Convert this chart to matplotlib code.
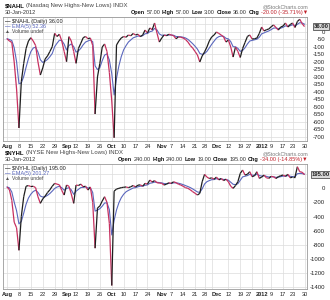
import matplotlib
matplotlib.use("Agg")
import matplotlib.pyplot as plt
from matplotlib.collections import LineCollection
import numpy as np
import pandas as pd

# ====== DATA ======
holidays = ["2011-09-05", "2011-11-24", "2011-12-26", "2012-01-02", "2012-01-16"]
tick_dates = ["2011-08-01", "2011-08-08", "2011-08-15", "2011-08-22", "2011-08-29",
              "2011-09-01", "2011-09-12", "2011-09-19", "2011-09-26", "2011-10-03",
              "2011-10-10", "2011-10-17", "2011-10-24", "2011-11-01", "2011-11-07",
              "2011-11-14", "2011-11-21", "2011-11-28", "2011-12-01", "2011-12-12",
              "2011-12-19", "2011-12-27", "2012-01-03", "2012-01-09", "2012-01-17",
              "2012-01-23", "2012-01-30"]
tick_labels = ["Aug", "8", "15", "22", "29", "Sep", "12", "19", "26", "Oct", "10", "17", "24",
               "Nov", "7", "14", "21", "28", "Dec", "12", "19", "27", "2012", "9", "17", "23", "30"]
month_labels = ["Aug", "Sep", "Oct", "Nov", "Dec", "2012"]

nahl = [-45, -60, -70, -200, -380, -640, -330, -210, -110, -60,
        -38, -60, -90, -200, -287, -240, -180, -160, -130, -98,
        -9, -30, -15, -60, -130, -198, -31, -60, -130, -209,
        -110, -75, -38, -30, -45, -40, -90, -547, -300, -209,
        -100, -80, -130, -270, -460, -705, -87, -60, -40, -30,
        -35, -20, -25, -10, -20, -15, -31, -20, 13, -7,
        27, 15, 60, -7, -67, -40, -20, -25, -15, -20,
        -25, -45, -33, -35, -40, -50, -67, -90, -107, -130,
        -153, -200, -160, -133, -100, -60, -33, -20, 0, -10,
        -20, -33, -67, -53, -100, -167, -100, -130, -170, -110,
        -70, -30, -20, -47, -45, -40, -10, 33, 7, 15,
        20, 35, 47, 30, 13, 33, 40, 60, 33, 50,
        60, 30, 70, 85, 56, 36]
nahl_ema = [-45, -50, -57, -105, -197, -345, -340, -297, -235, -177,
            -131, -107, -101, -134, -185, -203, -195, -183, -165, -143,
            -98, -75, -55, -57, -81, -120, -90, -80, -97, -134,
            -126, -109, -85, -67, -60, -53, -65, -226, -251, -237,
            -191, -154, -146, -187, -278, -420, -309, -226, -164, -119,
            -91, -67, -53, -39, -33, -27, -28, -25, -12, -10,
            2, 6, 24, 14, -13, -22, -21, -22, -20, -20,
            -22, -30, -31, -32, -35, -40, -49, -63, -78, -95,
            -114, -143, -149, -144, -129, -106, -82, -61, -41, -31,
            -27, -29, -42, -46, -64, -98, -99, -109, -129, -123,
            -105, -80, -60, -56, -52, -48, -35, -12, -6, 1,
            7, 16, 26, 27, 22, 26, 31, 41, 38, 42,
            48, 42, 51, 62, 60, 52.36]

nyhl = [20, -20, -170, -480, -560, -880, -400, -120, 30, 40,
        25, 30, 10, -120, -213, -150, -110, -60, -20, 30,
        71, 60, 50, -30, -95, 47, 30, -80, -213, 47,
        40, 60, 23, 30, -24, 20, -200, -850, -280, -250,
        -180, -119, -200, -500, -1380, -40, -10, 0, 10, 15,
        20, 10, 23, 40, 20, 45, 50, 30, 71, 60,
        118, 90, 110, 80, 75, 71, 47, 60, 80, 70,
        94, 80, 60, 47, 30, 10, 0, -20, -47, -70,
        -95, -71, 94, 199, 160, 140, 150, 130, 160, 120,
        140, 110, 130, 94, 30, 0, 40, 94, 213, 260,
        189, 200, 236, 165, 180, 236, 142, 160, 189, 150,
        142, 170, 165, 140, 165, 180, 189, 170, 200, 150,
        160, 160, 307, 236, 229, 195]
nyhl_ema = [20, 7, -52, -195, -317, -505, -470, -353, -225, -137,
            -83, -45, -27, -58, -110, -123, -119, -99, -73, -39,
            -2, 19, 29, 9, -26, -2, 9, -21, -85, -41,
            -14, 11, 15, 20, 5, 10, -60, -323, -309, -289,
            -253, -208, -205, -303, -662, -455, -307, -205, -133, -84,
            -49, -29, -12, 5, 10, 22, 31, 31, 44, 49,
            72, 78, 89, 86, 82, 78, 68, 65, 70, 70,
            78, 79, 73, 64, 53, 39, 26, 11, -8, -29,
            -51, -58, -7, 62, 95, 110, 123, 125, 137, 131,
            134, 126, 127, 116, 87, 58, 52, 66, 115, 163,
            172, 181, 199, 188, 185, 202, 182, 175, 180, 170,
            161, 164, 164, 156, 159, 166, 174, 173, 182, 171,
            167, 165, 208, 212, 210, 201.27]

nahl_ticks = list(range(100, -701, -50))
nyhl_ticks = list(range(200, -1401, -200))

# ====== STYLE ======
plt.rcParams["font.family"] = ["Liberation Sans", "DejaVu Sans"]
UP = "#1e1e1e"
DOWN = "#c7305f"
EMA_C = "#5a67bd"
GRID = "#dcdcdc"
W, H = 330, 300

days = pd.bdate_range("2011-08-01", "2012-01-30").drop(pd.to_datetime(holidays))
xs = np.arange(len(days))
tick_pos = [days.get_loc(pd.Timestamp(d)) for d in tick_dates]

fig = plt.figure(figsize=(W / 100, H / 100), dpi=100)
fig.patch.set_facecolor("white")
renderer = fig.canvas.get_renderer()


def fx(x):
    return x / W


def fy(y):
    return 1 - y / H


def rich(x, y, parts, size=4.2, align="left"):
    # draw bold / normal pieces one after another
    items = []
    cur = x
    for s, weight, color in parts:
        t = fig.text(fx(cur), fy(y), s, fontsize=size, fontweight=weight,
                     color=color, va="baseline")
        cur += t.get_window_extent(renderer=renderer).width + 1.6
        items.append(t)
    if align == "right":
        shift = cur - 1.6 - x
        for t in items:
            px, py = t.get_position()
            t.set_position((px - shift / W, py))


def panel(top_px, bot_px, vals, ema, ylim, yticks, name, full, ohlc, last_txt, ema_txt):
    ax = fig.add_axes([fx(3), fy(bot_px), 304 / W, (bot_px - top_px) / H])
    vals = np.array(vals, dtype=float)
    pts = np.column_stack([xs, vals])
    segs = np.stack([pts[:-1], pts[1:]], axis=1)
    cols = [UP if b >= a else DOWN for a, b in zip(vals[:-1], vals[1:])]
    ax.add_collection(LineCollection(segs, colors=cols, linewidths=0.9, zorder=3))
    ax.plot(xs, ema, color=EMA_C, lw=0.8, zorder=2)

    ax.set_xlim(-1.7, 126.05)
    ax.set_ylim(*ylim)
    ax.set_xticks(tick_pos)
    ax.set_xticklabels(tick_labels)
    for lab in ax.get_xticklabels():
        lab.set_fontsize(4.1)
        if lab.get_text() in month_labels:
            lab.set_fontweight("bold")
        if lab.get_text() in ("Sep", "Dec"):
            lab.set_horizontalalignment("left")
    # the label before 2012 sits left of its grid line
    ax.get_xticklabels()[tick_labels.index("2012") - 1].set_horizontalalignment("right")
    ax.set_yticks(yticks)
    ax.set_yticklabels(["" if v > 0 else str(v) for v in yticks])
    ax.yaxis.tick_right()
    for lab in ax.get_yticklabels():
        lab.set_horizontalalignment("right")
        lab.set_fontsize(4.3)
    ax.tick_params(axis="y", length=0, pad=13, colors="#222222")
    ax.tick_params(axis="x", length=0, pad=2, colors="#222222")
    ax.grid(True, color=GRID, lw=0.5)
    ax.set_axisbelow(True)
    for s in ax.spines.values():
        s.set_color("#9a9a9a")
        s.set_linewidth(0.6)

    # last value box on the right
    ax.annotate(last_txt, xy=(1.0, vals[-1]), xycoords=("axes fraction", "data"),
                xytext=(10, 0), textcoords="offset points", ha="center", va="center",
                fontsize=4.2, fontweight="bold", color="#222222",
                bbox=dict(boxstyle="square,pad=0.15", fc="#d8d8d8", ec="#333333", lw=0.5),
                annotation_clip=False)

    # header texts
    rich(5, top_px - 10, [(name, "bold", "#111111"), (full, "normal", "#444444")], size=4.3)
    fig.text(fx(5), fy(top_px - 3), "30-Jan-2012", fontsize=4.0, color="#333333", va="baseline")
    fig.text(fx(308), fy(top_px - 9), "@StockCharts.com", fontsize=3.8, color="#777777",
             ha="right", va="baseline")
    rich(308, top_px - 3, ohlc, size=4.0, align="right")

    # legend inside the frame
    rich(5, top_px + 6, [("\u2014", "bold", UP), (name + " (Daily) " + last_txt, "normal", "#222222")],
         size=4.0)
    rich(5, top_px + 11, [("\u2014", "bold", EMA_C), ("EMA(5) " + ema_txt, "normal", EMA_C)],
         size=4.0)
    rich(5, top_px + 16, [("\u25b2", "normal", "#555555"), ("Volume undef", "normal", "#444444")],
         size=3.6)
    return ax


nahl_ohlc = [("Open", "bold", "#111111"), ("57.00", "normal", "#333333"),
             ("High", "bold", "#111111"), ("57.00", "normal", "#333333"),
             ("Low", "bold", "#111111"), ("3.00", "normal", "#333333"),
             ("Close", "bold", "#111111"), ("36.00", "normal", "#333333"),
             ("Chg", "bold", "#111111"), ("-20.00 (-35.71%)\u25bc", "normal", "#c0202a")]
nyhl_ohlc = [("Open", "bold", "#111111"), ("240.00", "normal", "#333333"),
             ("High", "bold", "#111111"), ("240.00", "normal", "#333333"),
             ("Low", "bold", "#111111"), ("19.00", "normal", "#333333"),
             ("Close", "bold", "#111111"), ("195.00", "normal", "#333333"),
             ("Chg", "bold", "#111111"), ("-34.00 (-14.85%)\u25bc", "normal", "#c0202a")]

panel(17, 141, nahl, nahl_ema, (-727, 100), nahl_ticks, "$NAHL",
      "(Nasdaq New Highs-New Lows) INDX", nahl_ohlc, "36.00", "52.36")
panel(164, 289, nyhl, nyhl_ema, (-1430, 346), nyhl_ticks, "$NYHL",
      "(NYSE New Highs-New Lows) INDX", nyhl_ohlc, "195.00", "201.27")

fig.savefig("out.png", dpi=100, facecolor="white")
